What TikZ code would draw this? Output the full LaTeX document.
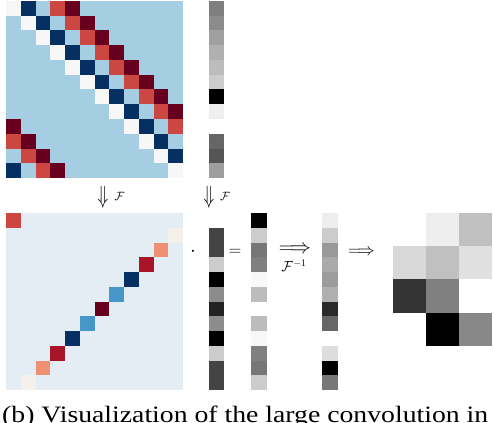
\documentclass[tikz,border=0pt]{standalone}
\usepackage{fontspec}
\setmainfont{Liberation Serif}
\usepackage{amsmath}
\definecolor{mlb}{HTML}{A6CEE3}
\definecolor{mwhite}{HTML}{F7F7F7}
\definecolor{mnavy}{HTML}{053061}
\definecolor{mred}{HTML}{CC4741}
\definecolor{mdark}{HTML}{67001F}
\definecolor{bbg}{HTML}{E4EDF3}
\definecolor{boff}{HTML}{F6F0EB}
\definecolor{bsal}{HTML}{EE9072}
\definecolor{bcrim}{HTML}{A81529}
\definecolor{bblue}{HTML}{4796C8}
\tikzset{
  sym/.style={inner sep=0pt},
  cell/.style={fill={rgb,255:red,#1;green,#1;blue,#1}}
}
\begin{document}
\begin{tikzpicture}[x=1pt,y=-1pt]
\useasboundingbox (0,0) rectangle (494,422);
\def\c{14.75}
% top matrix
\fill[mlb] (6,1) rectangle ++(12*\c,12*\c);
\foreach \r in {0,...,11} {
  \pgfmathtruncatemacro\ca{mod(\r+1,12)}
  \pgfmathtruncatemacro\cb{mod(\r+3,12)}
  \pgfmathtruncatemacro\cd{mod(\r+4,12)}
  \fill[mwhite] ({6+\r*\c},{1+\r*\c}) rectangle ++(\c,\c);
  \fill[mnavy] ({6+\ca*\c},{1+\r*\c}) rectangle ++(\c,\c);
  \fill[mred] ({6+\cb*\c},{1+\r*\c}) rectangle ++(\c,\c);
  \fill[mdark] ({6+\cd*\c},{1+\r*\c}) rectangle ++(\c,\c);
}
% top vector
\foreach \v [count=\i from 0] in {127,140,160,176,188,204,0,239,255,102,85,158}
  \fill[cell=\v] (209,{1+\i*\c}) rectangle ++(15,\c);
% bottom matrix
\fill[bbg] (6,213) rectangle ++(12*\c,12*\c);
\foreach \r/\k/\col in {0/0/mred,1/11/boff,2/10/bsal,3/9/bcrim,4/8/mnavy,5/7/bblue,6/6/mdark,7/5/bblue,8/4/mnavy,9/3/bcrim,10/2/bsal,11/1/boff}
  \fill[\col] ({6+\k*\c},{213+\r*\c}) rectangle ++(\c,\c);
% bottom vectors
\foreach \v [count=\i from 0] in {255,68,68,204,0,140,34,140,0,204,68,68}
  \fill[cell=\v] (209,{213+\i*\c}) rectangle ++(15,\c);
\foreach \v [count=\i from 0] in {0,204,119,128,248,188,255,188,248,128,119,204}
  \fill[cell=\v] (251,{213+\i*\c}) rectangle ++(15.5,\c);
\foreach \v [count=\i from 0] in {238,204,153,170,156,176,42,102,255,221,0,119}
  \fill[cell=\v] (322,{213+\i*\c}) rectangle ++(15.5,\c);
% heatmap
\foreach \row [count=\i from 0] in {{255,238,192},{216,192,224},{51,128,255},{255,0,136}} {
  \foreach \v [count=\j from 0] in \row
    \fill[cell=\v] ({393+\j*33},{213+\i*33.2}) rectangle ++(33,33.2);
}
% symbols
\node[sym] (dn1) at (103,197) {\fontsize{24}{24}\selectfont\scalebox{0.7}[1]{$\Downarrow$}};
\node[sym] (f1) at (119.5,196) {\fontsize{13}{13}\selectfont$\mathcal{F}$};
\node[sym] (dn2) at (209,197) {\fontsize{24}{24}\selectfont\scalebox{0.7}[1]{$\Downarrow$}};
\node[sym] (f2) at (225,196) {\fontsize{13}{13}\selectfont$\mathcal{F}$};
\node[sym] (dot) at (193,252) {\fontsize{20}{20}\selectfont$\cdot$};
\node[sym] (eq) at (235,252) {\fontsize{18}{18}\selectfont$=$};
\node[sym] (ar1) at (295,250) {\fontsize{21}{21}\selectfont$\Longrightarrow$};
\node[sym] (finv) at (294,266) {\fontsize{14}{14}\selectfont$\mathcal{F}^{-1}$};
\node[sym] (ar2) at (361.5,252) {\fontsize{19}{19}\selectfont$\Longrightarrow$};
% caption
\node[sym, anchor=base west] (cap) at (2,422) {\fontsize{23.5}{23.5}\selectfont\scalebox{1.18}[1]{(b) Visualization of the large convolution in}};
\end{tikzpicture}
\end{document}
